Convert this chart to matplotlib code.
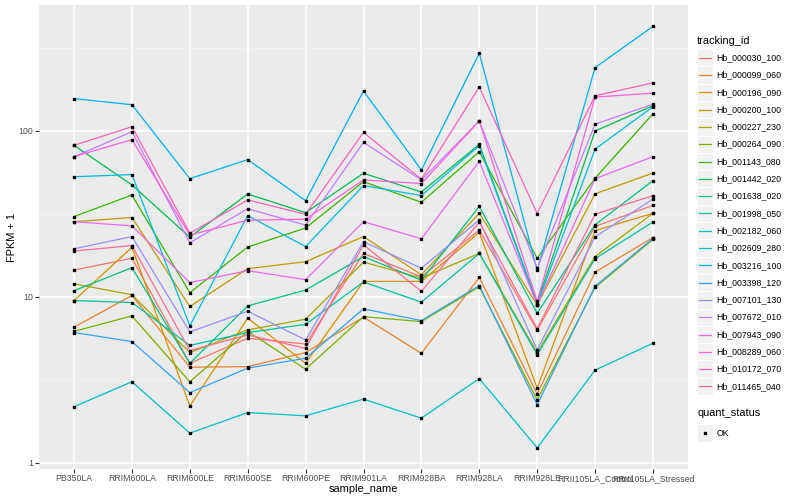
import matplotlib
matplotlib.use("Agg")
import matplotlib.pyplot as plt
from matplotlib.patches import Rectangle
from matplotlib.lines import Line2D
import numpy as np

plt.rcParams['font.family'] = ['Liberation Sans', 'DejaVu Sans']

categories = ["PB350LA", "RRIM600LA", "RRIM600LE", "RRIM600SE", "RRIM600PE",
              "RRIM901LA", "RRIM928BA", "RRIM928LA", "RRIM928LE",
              "RRII105LA_Control", "RRII105LA_Stressed"]

tracking_ids = ["Hb_000030_100", "Hb_000099_060", "Hb_000196_090", "Hb_000200_100",
                "Hb_000227_230", "Hb_000264_090", "Hb_001143_080", "Hb_001442_020",
                "Hb_001638_020", "Hb_001998_050", "Hb_002182_060", "Hb_002609_280",
                "Hb_003216_100", "Hb_003398_120", "Hb_007101_130", "Hb_007672_010",
                "Hb_007943_090", "Hb_008289_060", "Hb_010172_070", "Hb_011465_040"]

Hb_000030_100 = [14.5, 17.1, 3.98, 5.64, 5.2, 18.3, 13.2, 25.3, 6.3, 26.6, 35.6]
Hb_000099_060 = [6.57, 10.2, 3.77, 3.8, 4.62, 7.55, 4.57, 13.1, 2.6, 14.1, 22.8]
Hb_000196_090 = [9.5, 19.9, 2.2, 7.45, 3.98, 12.4, 12.4, 24.5, 2.82, 25.1, 31.9]
Hb_000200_100 = [28.4, 30.1, 8.76, 14.8, 16.3, 23.1, 13.6, 31.9, 8.95, 41.8, 55.8]
Hb_000227_230 = [12.0, 10.3, 4.62, 6.33, 7.34, 16.2, 13.0, 18.3, 4.62, 17.5, 31.9]
Hb_000264_090 = [6.2, 7.68, 3.08, 6.2, 3.67, 7.6, 7.1, 11.5, 2.4, 11.4, 22.2]
Hb_001143_080 = [30.5, 41.1, 10.6, 20.0, 26.0, 49.5, 37.2, 75.0, 17.1, 51.9, 127.0]
Hb_001442_020 = [82.0, 47.3, 22.9, 41.7, 32.2, 55.6, 42.9, 83.0, 9.2, 100.0, 142.0]
Hb_001638_020 = [10.9, 15.0, 3.98, 8.83, 11.0, 17.5, 12.6, 35.1, 7.98, 27.2, 50.2]
Hb_001998_050 = [9.5, 9.25, 5.1, 6.1, 6.83, 12.3, 9.3, 18.3, 4.48, 17.0, 28.3]
Hb_002182_060 = [2.18, 3.08, 1.51, 2.01, 1.92, 2.42, 1.86, 3.22, 1.23, 3.62, 5.26]
Hb_002609_280 = [53.0, 54.6, 6.7, 30.9, 20.1, 46.9, 40.8, 81.5, 9.0, 77.7, 140.0]
Hb_003216_100 = [156.6, 144.0, 51.6, 67.2, 38.0, 174.0, 58.2, 294.0, 14.5, 241.0, 427.0]
Hb_003398_120 = [6.1, 5.38, 2.65, 3.72, 4.27, 8.47, 7.2, 11.7, 2.24, 11.6, 22.5]
Hb_007101_130 = [19.5, 23.1, 6.15, 8.2, 5.5, 21.5, 14.9, 29.1, 4.8, 23.0, 38.9]
Hb_007672_010 = [70.0, 99.0, 21.2, 34.0, 27.1, 85.4, 50.7, 115.0, 14.9, 110.0, 145.0]
Hb_007943_090 = [28.4, 26.8, 12.2, 14.4, 12.7, 28.4, 22.4, 65.6, 9.0, 51.6, 70.0]
Hb_008289_060 = [70.0, 88.7, 23.6, 29.0, 29.4, 50.7, 48.2, 115.0, 9.4, 160.0, 169.0]
Hb_010172_070 = [82.0, 106.0, 24.2, 38.4, 31.5, 98.0, 51.2, 184.0, 31.8, 163.0, 195.0]
Hb_011465_040 = [18.9, 20.4, 4.75, 5.9, 4.9, 20.6, 10.8, 28.2, 6.44, 31.5, 40.8]

series = [Hb_000030_100, Hb_000099_060, Hb_000196_090, Hb_000200_100, Hb_000227_230,
          Hb_000264_090, Hb_001143_080, Hb_001442_020, Hb_001638_020, Hb_001998_050,
          Hb_002182_060, Hb_002609_280, Hb_003216_100, Hb_003398_120, Hb_007101_130,
          Hb_007672_010, Hb_007943_090, Hb_008289_060, Hb_010172_070, Hb_011465_040]

colors = ["#F8766D", "#EA8331", "#D89000", "#C09B00", "#A3A500", "#7CAE00", "#39B600",
          "#00BB4E", "#00BF7D", "#00C1A3", "#00BFC4", "#00BAE0", "#00B0F6", "#35A2FF",
          "#9590FF", "#C77CFF", "#E76BF3", "#FA62DB", "#FF62BC", "#FF6C91"]

W, H = 800, 500
fig = plt.figure(figsize=(8, 5), dpi=100)
fig.patch.set_facecolor('white')

def fx(px):
    return px / W

def fy(py):
    return 1 - py / H

ax = fig.add_axes([fx(39.3), fy(469), (687.7 - 39.3) / W, (469 - 5.3) / H])
ax.set_facecolor('#EBEBEB')
for s in ax.spines.values():
    s.set_visible(False)

x = np.arange(len(categories))
for vals, c in zip(series, colors):
    ax.plot(x, vals, color=c, lw=0.9, zorder=3)
for vals in series:
    ax.plot(x, vals, ls='none', marker='s', ms=2.1, color='black', zorder=4)

ax.set_yscale('log')
allv = np.log10(np.concatenate([np.array(v) for v in series]))
lo, hi = allv.min(), allv.max()
pad = 0.05 * (hi - lo)
ax.set_ylim(10 ** (lo - pad), 10 ** (hi + pad))
ax.set_xlim(-0.6, len(categories) - 0.4)

ax.set_yticks([1, 10, 100])
ax.set_yticklabels(["1", "10", "100"])
ax.set_yticks([10 ** 0.5, 10 ** 1.5, 10 ** 2.5], minor=True)
ax.yaxis.set_minor_formatter(matplotlib.ticker.NullFormatter())
ax.set_xticks(x)
ax.set_xticklabels(categories)

ax.grid(True, which='major', color='white', lw=1.1, zorder=0)
ax.grid(True, which='minor', axis='y', color='#F5F5F5', lw=0.55, zorder=0)
ax.set_axisbelow(True)
ax.tick_params(axis='both', which='major', length=3, width=0.8, color='#333333',
               labelcolor='#4D4D4D', labelsize=6.3, pad=1.2)
ax.tick_params(axis='x', which='major', pad=0.6)
ax.tick_params(axis='y', which='minor', length=0)

fig.text(fx(12), fy(237), "FPKM + 1", rotation=90, ha='center', va='center',
         fontsize=7.9, color='black')
fig.text(fx(363), fy(489), "sample_name", ha='center', va='center',
         fontsize=7.9, color='black')

# legend: tracking_id
fig.text(fx(697), fy(40.5), "tracking_id", ha='left', va='center', fontsize=7.9)
key_x0, key_w, key_h = 697.3, 15.4, 17.3
y0 = 57.7
for i, (name, c) in enumerate(zip(tracking_ids, colors)):
    yc = y0 + i * key_h
    fig.add_artist(Rectangle((fx(key_x0), fy(yc + key_h / 2)), key_w / W, key_h / H,
                             transform=fig.transFigure, facecolor='#F2F2F2',
                             edgecolor='white', lw=0.8))
    fig.add_artist(Line2D([fx(key_x0 + 1.7), fx(key_x0 + key_w - 1.7)], [fy(yc), fy(yc)],
                          transform=fig.transFigure, color=c, lw=0.9))
    fig.text(fx(716.5), fy(yc), name, ha='left', va='center', fontsize=6.3)

# legend: quant_status
fig.text(fx(697), fy(413), "quant_status", ha='left', va='center', fontsize=7.9)
yc = 433
fig.add_artist(Rectangle((fx(key_x0), fy(yc + key_h / 2)), key_w / W, key_h / H,
                         transform=fig.transFigure, facecolor='#F2F2F2',
                         edgecolor='white', lw=0.8))
fig.add_artist(Line2D([fx(key_x0 + key_w / 2)], [fy(yc)], transform=fig.transFigure,
                      marker='s', ms=2.1, color='black', ls='none'))
fig.text(fx(716.5), fy(yc), "OK", ha='left', va='center', fontsize=6.3)

fig.savefig("out.png", dpi=100)
